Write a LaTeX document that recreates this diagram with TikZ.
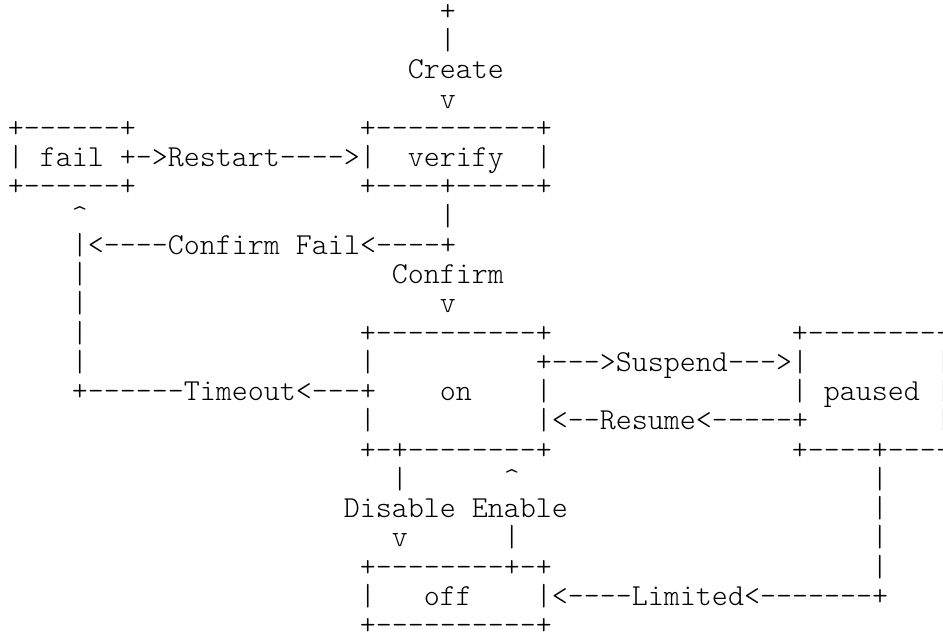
\documentclass[tikz,border=0pt]{standalone}
\usepackage{fontspec}
\setmonofont{Latin Modern Mono Light}

\begin{document}
\begin{tikzpicture}[
    x=12pt, y=-21.9375pt,
    ascii/.style={font=\ttfamily\fontsize{22.86pt}{22.86pt}\selectfont,
                  inner sep=0pt, anchor=base west},
]
\useasboundingbox (-0.481,-0.699) rectangle (58.456,20.976);

% Create (entry into verify)
\node[ascii] (entry-plus) at (27,0) {+};
\node[ascii] (entry-bar)  at (27,1) {|};
\node[ascii] (create)     at (25,2) {Create};
\node[ascii] (entry-tip)  at (27,3) {v};

% fail box
\node[ascii] (fail-top)    at (0,4) {+------+};
\node[ascii] (fail-left)   at (0,5) {|};
\node[ascii] (fail)        at (2,5) {fail};
\node[ascii] (fail-bottom) at (0,6) {+------+};

% Restart: fail -> verify
\node[ascii] (restart) at (7,5) {+->Restart---->|};

% verify box
\node[ascii] (verify-top)    at (22,4) {+----------+};
\node[ascii] (verify)        at (25,5) {verify};
\node[ascii] (verify-right)  at (33,5) {|};
\node[ascii] (verify-bottom) at (22,6) {+----+-----+};

% Confirm Fail: verify -> fail
\node[ascii] (fail-tip)     at (4,7)  {\textasciicircum};
\node[ascii] (verify-out)   at (27,7) {|};
\node[ascii] (confirm-fail) at (4,8)  {|<----Confirm~Fail<----+};

% Confirm: verify -> on
\node[ascii] (confirm) at (24,9)  {Confirm};
\node[ascii] (on-tip)  at (27,10) {v};

% Timeout: on -> fail
\node[ascii] (timeout-a) at (4,9)  {|};
\node[ascii] (timeout-b) at (4,10) {|};
\node[ascii] (timeout-c) at (4,11) {|};
\node[ascii] (timeout-d) at (4,12) {|};
\node[ascii] (timeout)   at (4,13) {+------Timeout<---+};

% on box
\node[ascii] (on-top)    at (22,11) {+----------+};
\node[ascii] (on-left-a) at (22,12) {|};
\node[ascii] (on)        at (27,13) {on};
\node[ascii] (on-right)  at (33,13) {|};
\node[ascii] (on-left-b) at (22,14) {|};
\node[ascii] (on-bottom) at (22,15) {+-+--------+};

% Suspend / Resume
\node[ascii] (suspend) at (33,12) {+--->Suspend--->|};
\node[ascii] (resume)  at (33,14) {|<--Resume<-----+};

% paused box
\node[ascii] (paused-top)     at (49,11) {+---------+};
\node[ascii] (paused-right-a) at (58,12) {|};
\node[ascii] (paused-left)    at (49,13) {|};
\node[ascii] (paused)         at (51,13) {paused};
\node[ascii] (paused-right-b) at (58,13) {|};
\node[ascii] (paused-right-c) at (58,14) {|};
\node[ascii] (paused-bottom)  at (49,15) {+----+----+};

% Disable / Enable
\node[ascii] (disable-bar) at (24,16) {|};
\node[ascii] (enable-tip)  at (31,16) {\textasciicircum};
\node[ascii] (toggle)      at (21,17) {Disable~Enable};
\node[ascii] (disable-tip) at (24,18) {v};
\node[ascii] (enable-bar)  at (31,18) {|};

% off box
\node[ascii] (off-top)    at (22,19) {+--------+-+};
\node[ascii] (off-left)   at (22,20) {|};
\node[ascii] (off)        at (26,20) {off};
\node[ascii] (off-bottom) at (22,21) {+----------+};

% Limited: paused -> off
\node[ascii] (limited-a) at (54,16) {|};
\node[ascii] (limited-b) at (54,17) {|};
\node[ascii] (limited-c) at (54,18) {|};
\node[ascii] (limited-d) at (54,19) {|};
\node[ascii] (limited)   at (33,20) {|<----Limited<-------+};

\end{tikzpicture}
\end{document}
